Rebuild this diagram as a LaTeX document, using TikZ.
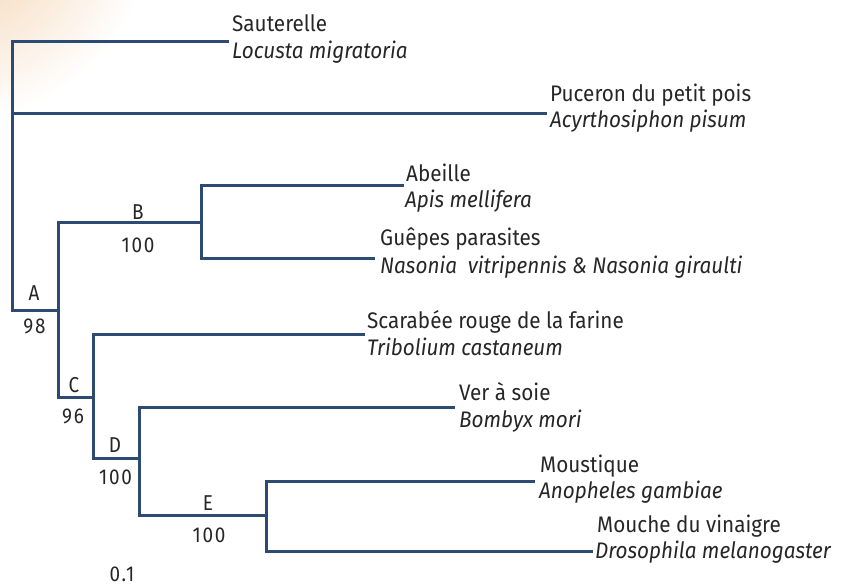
\documentclass[tikz,border=0pt]{standalone}
\usepackage{fontspec}
\setmainfont{Fira Sans}[FakeStretch=0.92]
\newfontfamily\numfont{Fira Sans}[FakeStretch=0.88, LetterSpace=8]
\definecolor{branch}{HTML}{2C4A72}
\definecolor{ink}{HTML}{262626}
\definecolor{peach}{HTML}{F3CFA8}
\tikzset{
  br/.style={draw=branch, line width=3pt, line cap=rect},
  nm/.style={anchor=base west, inner sep=0pt, text=ink, font=\fontsize{22.5}{26}\selectfont},
  lat/.style={nm, font=\fontsize{22.5}{26}\selectfont\itshape},
  lbl/.style={anchor=base, inner sep=0pt, text=ink, font=\fontsize{21.5}{24}\selectfont\numfont}
}
\begin{document}
\begin{tikzpicture}[x=1pt,y=-1pt]
\useasboundingbox (0,0) rectangle (846,588);
% faint background glow
\begin{scope}
\clip (0,0) rectangle (846,588);
\shade[inner color=peach, outer color=white] (-40,-70) circle[radius=190];
\end{scope}
% internal nodes
\coordinate (R) at (12,310);
\coordinate (A) at (58,310);
\coordinate (B) at (201,223);
\coordinate (C) at (93,397);
\coordinate (D) at (139,458);
\coordinate (E) at (266,515);
% leaf ends
\coordinate (l1) at (227,42);
\coordinate (l2) at (545,114);
\coordinate (l3) at (402,186);
\coordinate (l4) at (373,258);
\coordinate (l5) at (363,334);
\coordinate (l6) at (453,407);
\coordinate (l7) at (533,481);
\coordinate (l8) at (591,551);
% branches
\draw[br] (R) |- (l1);
\draw[br] (R) |- (l2);
\draw[br] (R) -- (A);
\draw[br] (A) |- (B);
\draw[br] (A) |- (C);
\draw[br] (B) |- (l3);
\draw[br] (B) |- (l4);
\draw[br] (C) |- (l5);
\draw[br] (C) |- (D);
\draw[br] (D) |- (l6);
\draw[br] (D) |- (E);
\draw[br] (E) |- (l7);
\draw[br] (E) |- (l8);
% leaf texts
\node[nm]  (t1) at (232,32) {Sauterelle};
\node[lat] (s1) at (232,59) {Locusta migratoria};
\node[nm]  (t2) at (550,102) {Puceron du petit pois};
\node[lat] (s2) at (550,128) {Acyrthosiphon pisum};
\node[nm]  (t3) at (406,182) {Abeille};
\node[lat] (s3) at (405,208) {Apis mellifera};
\node[nm]  (t4) at (380,246) {Guêpes parasites};
\node[lat] (s4) at (380,273) {Nasonia\ \ vitripennis \& Nasonia giraulti};
\node[nm]  (t5) at (367,328) {Scarabée rouge de la farine};
\node[lat] (s5) at (367,355) {Tribolium castaneum};
\node[nm]  (t6) at (459,400) {Ver à soie};
\node[lat] (s6) at (459,427) {Bombyx mori};
\node[nm]  (t7) at (540,472) {Moustique};
\node[lat] (s7) at (539,498) {Anopheles gambiae};
\node[nm]  (t8) at (597,532) {Mouche du vinaigre};
\node[lat] (s8) at (595,558) {Drosophila melanogaster};
% clade labels
\node[lbl] (cA) at (34,300) {A};
\node[lbl] (vA) at (34.5,333) {98};
\node[lbl] (cB) at (138,219) {B};
\node[lbl] (vB) at (138,252) {100};
\node[lbl] (cC) at (74,392) {C};
\node[lbl] (vC) at (73,423) {96};
\node[lbl] (cD) at (115,452) {D};
\node[lbl] (vD) at (115.5,484) {100};
\node[lbl] (cE) at (208,510) {E};
\node[lbl] (vE) at (209,542) {100};
\node[lbl] (sc) at (122,581) {0.1};
\end{tikzpicture}
\end{document}
